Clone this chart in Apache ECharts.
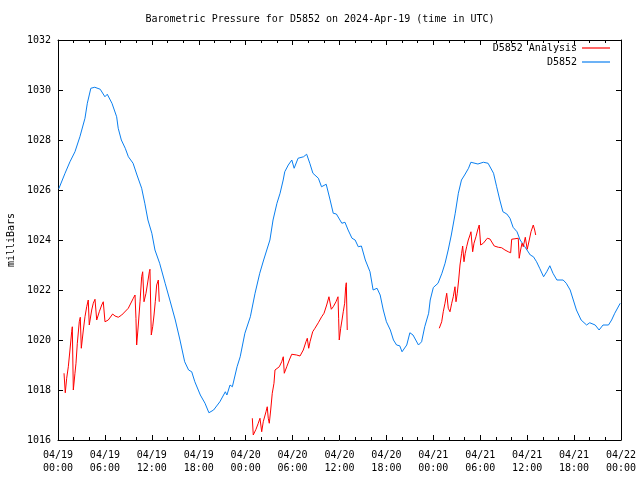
<!DOCTYPE html>
<html>
<head>
<meta charset="utf-8">
<script src="https://cdn.jsdelivr.net/npm/echarts@6/dist/echarts.min.js"></script>
<style>html,body{margin:0;padding:0;background:#fff}#c{width:640px;height:480px}</style>
</head>
<body>
<div id="c"></div>
<script>
// hours since 2024-04-19 00:00 UTC
const xTickLabels = ["04/19\n00:00","04/19\n06:00","04/19\n12:00","04/19\n18:00","04/20\n00:00","04/20\n06:00","04/20\n12:00","04/20\n18:00","04/21\n00:00","04/21\n06:00","04/21\n12:00","04/21\n18:00","04/22\n00:00"];
const seriesNames = ["D5852 Analysis", "D5852"];

const obsHours = [0.1,0.9,1.53,2.17,2.8,3.45,3.75,4.2,4.7,5.4,6.0,6.3,6.9,7.5,7.7,8.1,8.6,9.0,9.6,10.1,10.7,11.1,11.5,12.0,12.4,13.0,13.7,14.3,15.0,15.6,16.2,16.7,17.1,17.5,18.2,18.8,19.3,19.9,20.7,21.4,21.6,22.0,22.3,22.9,23.3,23.9,24.6,25.2,25.8,26.3,26.7,27.1,27.5,28.0,28.4,28.8,29.0,29.45,29.9,30.2,30.7,31.4,31.8,32.2,32.6,33.3,33.7,34.3,34.8,35.2,35.6,36.3,36.7,37.1,37.6,38.0,38.4,38.8,39.3,39.9,40.3,40.8,41.2,41.6,42.0,42.5,42.9,43.3,43.7,44.0,44.6,45.0,45.4,46.1,46.5,46.9,47.4,47.6,48.0,48.6,49.1,49.5,49.9,50.3,50.8,51.2,51.6,52.0,52.5,52.8,53.7,54.4,55.0,55.7,56.1,56.5,56.9,57.4,57.8,58.2,58.7,59.1,59.7,60.4,60.8,61.2,61.6,62.1,62.5,62.9,63.3,63.8,64.6,65.0,65.5,65.9,66.3,66.9,67.6,68.0,68.7,69.2,69.7,70.4,70.8,71.2,71.9];
const obsValues = [1026.05,1026.67,1027.13,1027.53,1028.13,1028.87,1029.47,1030.07,1030.11,1030.03,1029.73,1029.83,1029.47,1028.93,1028.47,1028.0,1027.67,1027.33,1027.07,1026.6,1026.07,1025.47,1024.8,1024.27,1023.6,1023.07,1022.27,1021.6,1020.8,1020.0,1019.13,1018.8,1018.73,1018.33,1017.8,1017.47,1017.09,1017.2,1017.53,1017.93,1017.8,1018.2,1018.13,1018.93,1019.33,1020.27,1020.93,1021.87,1022.67,1023.2,1023.6,1024.0,1024.8,1025.47,1025.87,1026.4,1026.73,1027.0,1027.2,1026.87,1027.27,1027.33,1027.43,1027.07,1026.67,1026.47,1026.13,1026.23,1025.6,1025.07,1025.04,1024.67,1024.71,1024.4,1024.07,1024.0,1023.73,1023.76,1023.2,1022.73,1022.0,1022.07,1021.8,1021.2,1020.73,1020.4,1020.0,1019.8,1019.77,1019.53,1019.8,1020.29,1020.2,1019.8,1019.93,1020.53,1021.07,1021.6,1022.1,1022.27,1022.67,1023.07,1023.6,1024.2,1025.07,1025.87,1026.4,1026.6,1026.87,1027.11,1027.04,1027.11,1027.07,1026.67,1026.13,1025.6,1025.13,1025.04,1024.87,1024.51,1024.33,1024.0,1023.73,1023.4,1023.33,1023.13,1022.87,1022.53,1022.73,1022.97,1022.67,1022.4,1022.4,1022.27,1022.0,1021.6,1021.2,1020.8,1020.6,1020.69,1020.6,1020.4,1020.6,1020.6,1020.8,1021.07,1021.47];

const analysisHours = [0.77,0.93,1.11,1.32,1.53,1.75,1.83,1.96,2.17,2.30,2.47,2.72,2.85,2.98,3.24,3.45,3.67,3.87,4.00,4.31,4.51,4.73,4.95,5.28,5.59,5.79,6.01,6.43,6.65,6.99,7.29,7.71,8.15,8.99,9.63,9.85,9.97,10.06,10.27,10.49,10.70,10.83,11.0,11.25,11.42,11.68,11.76,11.93,12.11,12.28,12.44,12.62,12.83,12.95,
 18.0,
 24.85,24.97,25.32,25.61,25.83,26.05,26.25,26.60,26.76,26.89,27.02,27.20,27.40,27.62,27.75,27.97,28.30,28.61,28.81,28.94,29.25,29.58,29.89,30.52,30.95,31.37,31.71,31.88,32.06,32.23,32.57,32.86,33.29,33.72,34.02,34.36,34.65,34.78,34.95,35.20,35.55,35.81,35.89,35.97,36.15,36.32,36.48,36.66,36.79,36.87,36.99,
 42.0,
 48.76,49.07,49.27,49.49,49.71,49.91,50.13,50.35,50.55,50.77,50.90,51.06,51.24,51.41,51.62,51.75,51.92,52.08,52.26,52.47,52.69,52.81,53.03,53.20,53.45,53.67,53.87,54.05,54.39,54.90,55.24,55.79,56.31,56.74,57.16,57.58,57.89,58.02,58.44,58.86,58.98,59.16,59.34,59.50,59.76,60.01,60.27,60.49,60.78,60.96,61.09];
const analysisValues = [1018.67,1017.89,1018.47,1018.93,1019.6,1020.33,1020.53,1018.0,1018.67,1019.07,1019.87,1020.73,1020.91,1019.67,1020.4,1020.93,1021.33,1021.6,1020.6,1021.2,1021.47,1021.63,1020.8,1021.13,1021.4,1021.53,1020.73,1020.8,1020.87,1021.04,1020.96,1020.91,1021.0,1021.27,1021.67,1021.8,1020.87,1019.8,1020.6,1021.53,1022.53,1022.73,1021.53,1021.87,1022.2,1022.73,1022.83,1020.2,1020.53,1021.0,1021.53,1022.2,1022.4,1021.53,
 null,
 1016.87,1016.2,1016.43,1016.67,1016.87,1016.33,1016.73,1017.13,1017.33,1016.87,1016.67,1017.2,1017.87,1018.27,1018.8,1018.73,1018.93,1019.13,1019.33,1018.67,1018.93,1019.2,1019.43,1019.4,1019.36,1019.6,1019.93,1020.07,1019.67,1019.93,1020.33,1020.47,1020.69,1020.93,1021.07,1021.4,1021.73,1021.8,1021.23,1021.33,1021.53,1021.73,1020.87,1020.0,1020.47,1020.8,1021.13,1021.47,1022.13,1022.29,1020.4,
 null,
 1020.47,1020.73,1021.13,1021.47,1021.87,1021.27,1021.13,1021.47,1021.73,1022.13,1021.53,1021.87,1022.4,1023.0,1023.47,1023.76,1023.13,1023.47,1023.73,1024.0,1024.2,1024.33,1023.53,1023.87,1024.13,1024.4,1024.6,1023.8,1023.87,1024.07,1024.04,1023.76,1023.71,1023.69,1023.6,1023.53,1023.49,1024.03,1024.05,1024.07,1023.27,1023.6,1023.87,1023.73,1024.11,1023.63,1024.0,1024.33,1024.6,1024.4,1024.2];

function zip(xs, ys) { return xs.map((x, i) => [x, ys[i] === null ? '-' : ys[i]]); }

const FONT = 'DejaVu Sans Mono';
const chart = echarts.init(document.getElementById('c'), null, {renderer: 'canvas'});
const baseX = {
  type: 'value', min: 0, max: 72, interval: 6,
  axisLine: {show: true, onZero: false, lineStyle: {color: '#000', width: 1}},
  axisTick: {show: true, inside: true, length: 5, lineStyle: {color: '#000'}},
  minorTick: {show: true, splitNumber: 3, length: 3, lineStyle: {color: '#000'}},
  splitLine: {show: false}
};
const baseY = {
  type: 'value', min: 1016, max: 1032, interval: 2,
  axisLine: {show: true, onZero: false, lineStyle: {color: '#000', width: 1}},
  axisTick: {show: true, inside: true, length: 5, lineStyle: {color: '#000'}},
  splitLine: {show: false}
};
chart.setOption({
  animation: false,
  backgroundColor: '#fff',
  title: {
    text: 'Barometric Pressure for D5852 on 2024-Apr-19 (time in UTC)',
    left: 'center', top: 14, padding: 0,
    textStyle: {fontFamily: FONT, fontSize: 10, fontWeight: 'normal', color: '#000'}
  },
  legend: {
    orient: 'vertical', right: 30, top: 43, padding: 0, itemGap: 4,
    itemWidth: 28, itemHeight: 10, align: 'right', icon: 'rect',
    textStyle: {fontFamily: FONT, fontSize: 10, color: '#000'},
    data: seriesNames.map(n => ({name: n, icon: 'path://M0,0H28V1.2H0Z'}))
  },
  grid: {left: 58, right: 19, top: 40, bottom: 40, containLabel: false, outerBoundsMode: 'none'},
  xAxis: [
    Object.assign({}, baseX, {
      position: 'bottom',
      axisLabel: {show: true, margin: 9, lineHeight: 13, fontFamily: FONT, fontSize: 10, color: '#000',
        formatter: (v) => xTickLabels[Math.round(v / 6)]}
    }),
    Object.assign({}, baseX, {position: 'top', axisLabel: {show: false}})
  ],
  yAxis: [
    Object.assign({}, baseY, {
      position: 'left',
      name: 'milliBars', nameLocation: 'middle', nameGap: 40, nameRotate: 90,
      nameTextStyle: {fontFamily: FONT, fontSize: 10, color: '#000'},
      axisLabel: {show: true, margin: 7, fontFamily: FONT, fontSize: 10, color: '#000',
        formatter: (v) => String(v)}
    }),
    Object.assign({}, baseY, {position: 'right', axisLabel: {show: false}})
  ],
  series: [
    {
      name: seriesNames[0], type: 'line', xAxisIndex: 0, yAxisIndex: 0,
      data: zip(analysisHours, analysisValues),
      symbol: 'none', connectNulls: false,
      lineStyle: {color: '#ff0000', width: 1}, itemStyle: {color: '#ff0000'}, z: 3
    },
    {
      name: seriesNames[1], type: 'line', xAxisIndex: 0, yAxisIndex: 0,
      data: zip(obsHours, obsValues),
      symbol: 'none',
      lineStyle: {color: '#0a7ff0', width: 1}, itemStyle: {color: '#0a7ff0'}, z: 2
    }
  ]
});
</script>
</body>
</html>
